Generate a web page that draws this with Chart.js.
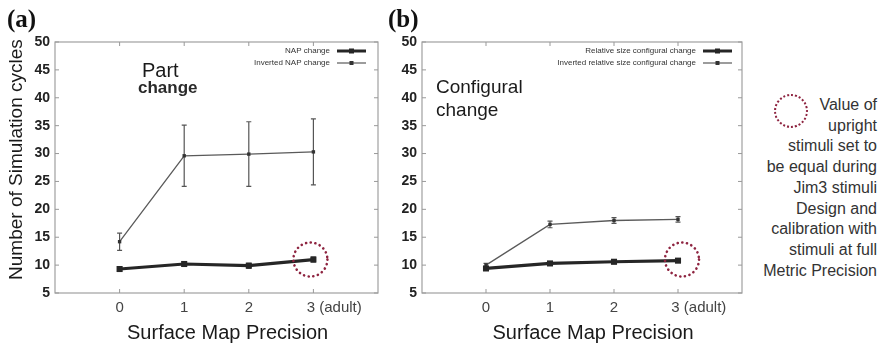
<!DOCTYPE html>
<html>
<head>
<meta charset="utf-8">
<script src="https://cdn.jsdelivr.net/npm/chart.js@4.4.1/dist/chart.umd.min.js"></script>
<style>
  html,body{margin:0;padding:0;background:#fff;}
  #wrap{position:relative;width:882px;height:345px;overflow:hidden;background:#fff;font-family:"Liberation Sans",Arial,sans-serif;}
  canvas{position:absolute;top:0;}
  .lbl{position:absolute;white-space:nowrap;}
  .panel{font-family:"Liberation Serif",serif;font-weight:bold;font-size:25px;color:#111;}
  .note{color:#1a1a1a;}
  #side{position:absolute;right:5px;top:95px;text-align:right;font-size:16px;line-height:20.7px;color:#333;}
  #ring{position:absolute;left:774px;top:94px;width:34px;height:34px;border-radius:50%;border:2.5px dotted #8e2440;box-sizing:border-box;}
</style>
</head>
<body>
<div id="wrap">
  <canvas id="ca" width="400" height="345" style="left:0px"></canvas>
  <canvas id="cb" width="393" height="345" style="left:367px"></canvas>
  <div class="lbl panel" style="left:7px;top:5px;">(a)</div>
  <div class="lbl panel" style="left:388px;top:5px;">(b)</div>
  <div class="lbl note" style="left:142px;top:59px;font-size:20px;">Part</div>
  <div class="lbl note" style="left:138px;top:78px;font-size:17px;font-weight:bold;color:#2a2a2a;">change</div>
  <div class="lbl note" style="left:436px;top:76px;font-size:19px;">Configural</div>
  <div class="lbl note" style="left:436px;top:99px;font-size:19px;">change</div>
  <div id="ring"></div>
  <div id="side">Value of<br>upright<br>stimuli set to<br>be equal during<br>Jim3 stimuli<br>Design and<br>calibration with<br>stimuli at full<br>Metric Precision</div>
</div>
<script>
// ---- data ----
const xLevels = [0, 1, 2, 3];
const xTickLabels = ['0', '1', '2', '3 (adult)'];
const yTicks = [5, 10, 15, 20, 25, 30, 35, 40, 45, 50];

const napChange = [9.3, 10.2, 9.9, 11.0];
const napChangeErr = [0.3, 0.4, 0.4, 0.4];
const invNapChange = [14.2, 29.6, 29.9, 30.3];
const invNapChangeErr = [1.55, 5.5, 5.8, 5.9];

const relConfChange = [9.4, 10.3, 10.6, 10.8];
const relConfChangeErr = [0.2, 0.3, 0.3, 0.3];
const invRelConfChange = [10.0, 17.3, 18.0, 18.2];
const invRelConfChangeErr = [0.3, 0.6, 0.5, 0.5];

const seriesA = ['NAP change', 'Inverted NAP change'];
const seriesB = ['Relative size configural change', 'Inverted relative size configural change'];
const highlightA = {x: 3, y: 11};
const highlightB = {x: 3, y: 11};

// ---- helpers ----
const SANS = '"Liberation Sans", Arial, sans-serif';
function pts(vals){ return xLevels.map((x,i)=>({x:x, y:vals[i]})); }
function thick(label, vals, errs){
  return {label, data: pts(vals), errors: errs, borderColor:'#262626', backgroundColor:'#262626',
    borderWidth:3.2, pointStyle:'rect', pointRadius:4.3, pointBorderWidth:0, showLine:true, tension:0, kind:'thick'};
}
function thin(label, vals, errs){
  return {label, data: pts(vals), errors: errs, borderColor:'#5a5a5a', backgroundColor:'#333',
    borderWidth:1.3, pointStyle:'rect', pointRadius:2.4, pointBorderWidth:0, showLine:true, tension:0, kind:'thin'};
}

const frame = {
  id:'frame',
  beforeDatasetsDraw(chart){
    const {ctx, chartArea:{left,right,top,bottom}, scales:{x,y}} = chart;
    ctx.save();
    ctx.strokeStyle = '#a0a0a0'; ctx.lineWidth = 1.2;
    ctx.strokeRect(left, top, right-left, bottom-top);
    ctx.strokeStyle = '#999'; ctx.lineWidth = 1;
    ctx.beginPath();
    xLevels.forEach(v=>{ const px = x.getPixelForValue(v);
      ctx.moveTo(px, bottom); ctx.lineTo(px, bottom-4);
      ctx.moveTo(px, top); ctx.lineTo(px, top+4); });
    yTicks.forEach(v=>{ const py = y.getPixelForValue(v);
      ctx.moveTo(left, py); ctx.lineTo(left+4, py);
      ctx.moveTo(right, py); ctx.lineTo(right-4, py); });
    ctx.stroke();
    chart.data.datasets.forEach(ds=>{
      ctx.strokeStyle = ds.kind==='thick' ? '#333' : '#555';
      ctx.lineWidth = ds.kind==='thick' ? 1.5 : 1.2;
      ds.data.forEach((p,i)=>{
        const e = ds.errors[i];
        const px = x.getPixelForValue(p.x);
        const y1 = y.getPixelForValue(p.y+e), y2 = y.getPixelForValue(p.y-e);
        ctx.beginPath();
        ctx.moveTo(px, y1); ctx.lineTo(px, y2);
        ctx.moveTo(px-2.5, y1); ctx.lineTo(px+2.5, y1);
        ctx.moveTo(px-2.5, y2); ctx.lineTo(px+2.5, y2);
        ctx.stroke();
      });
    });
    ctx.restore();
  },
  afterDatasetsDraw(chart, args, opts){
    const {ctx, chartArea:{right,top}, scales:{x,y}} = chart;
    ctx.save();
    ctx.font = '8px ' + SANS;
    ctx.textAlign = 'right'; ctx.textBaseline = 'middle';
    chart.data.datasets.forEach((ds,i)=>{
      const yy = top + 9 + i*12;
      ctx.fillStyle = '#333';
      ctx.fillText(ds.label, right - opts.legendGap, yy);
      const x1 = right - opts.legendGap + 7, x2 = x1 + 29;
      ctx.strokeStyle = ds.borderColor; ctx.lineWidth = ds.kind==='thick' ? 3 : 1.2;
      ctx.beginPath(); ctx.moveTo(x1, yy); ctx.lineTo(x2, yy); ctx.stroke();
      ctx.fillStyle = ds.backgroundColor;
      const s = ds.kind==='thick' ? 2.5 : 2;
      ctx.fillRect((x1+x2)/2 - s, yy - s, 2*s, 2*s);
    });
    const h = opts.highlight;
    const cx = x.getPixelForValue(h.x) + opts.ringDx, cy = y.getPixelForValue(h.y);
    ctx.strokeStyle = '#8e2440'; ctx.lineWidth = 2.6; ctx.lineCap = 'round';
    ctx.setLineDash([0.1, 4.6]);
    ctx.beginPath(); ctx.arc(cx, cy, 17, 0, Math.PI*2); ctx.stroke();
    ctx.restore();
  }
};

function pad(n){ return '\u00a0'.repeat(n); }

function makeChart(id, datasets, withTitle, legendGap, highlight, ringDx){
  return new Chart(document.getElementById(id), {
    type:'scatter',
    data:{datasets},
    options:{
      responsive:false, animation:false, devicePixelRatio:1,
      layout:{padding:{left:0, right: id==='ca'?22:18, top:42, bottom:0}},
      plugins:{legend:{display:false}, tooltip:{enabled:false},
        frame:{legendGap, highlight, ringDx}},
      scales:{
        x:{type:'linear', min:-1, max:4,
          afterFit(s){ s.height = 52; },
          grid:{display:false, drawTicks:false}, border:{display:false},
          ticks:{stepSize:1, padding:6, color:'#444', font:{family:SANS, size:15}, maxRotation:0, autoSkip:false,
            callback(v){ const i = xLevels.indexOf(v); if(i<0) return '';
              return i===xLevels.length-1 ? pad(10)+xTickLabels[i] : xTickLabels[i]; }},
          title:{display:true, text: pad(4)+'Surface Map Precision', color:'#1a1a1a',
            font:{family:SANS, size:20}, padding:{top:0,bottom:0}}
        },
        y:{type:'linear', min:5, max:50,
          afterFit(s){ s.width = 55; },
          grid:{display:false, drawTicks:false}, border:{display:false},
          ticks:{stepSize:5, padding:5, color:'#222', font:{family:SANS, size:14, weight:'bold'}},
          title:{display:withTitle, text: pad(3)+'Number of Simulation cycles', color:'#1a1a1a',
            font:{family:SANS, size:19}, padding:{top:5,bottom:0}}
        }
      }
    },
    plugins:[frame]
  });
}

makeChart('ca', [thick(seriesA[0], napChange, napChangeErr), thin(seriesA[1], invNapChange, invNapChangeErr)],
  true, 48, highlightA, -3);
makeChart('cb', [thick(seriesB[0], relConfChange, relConfChangeErr), thin(seriesB[1], invRelConfChange, invRelConfChangeErr)],
  false, 46, highlightB, 4);
</script>
</body>
</html>
